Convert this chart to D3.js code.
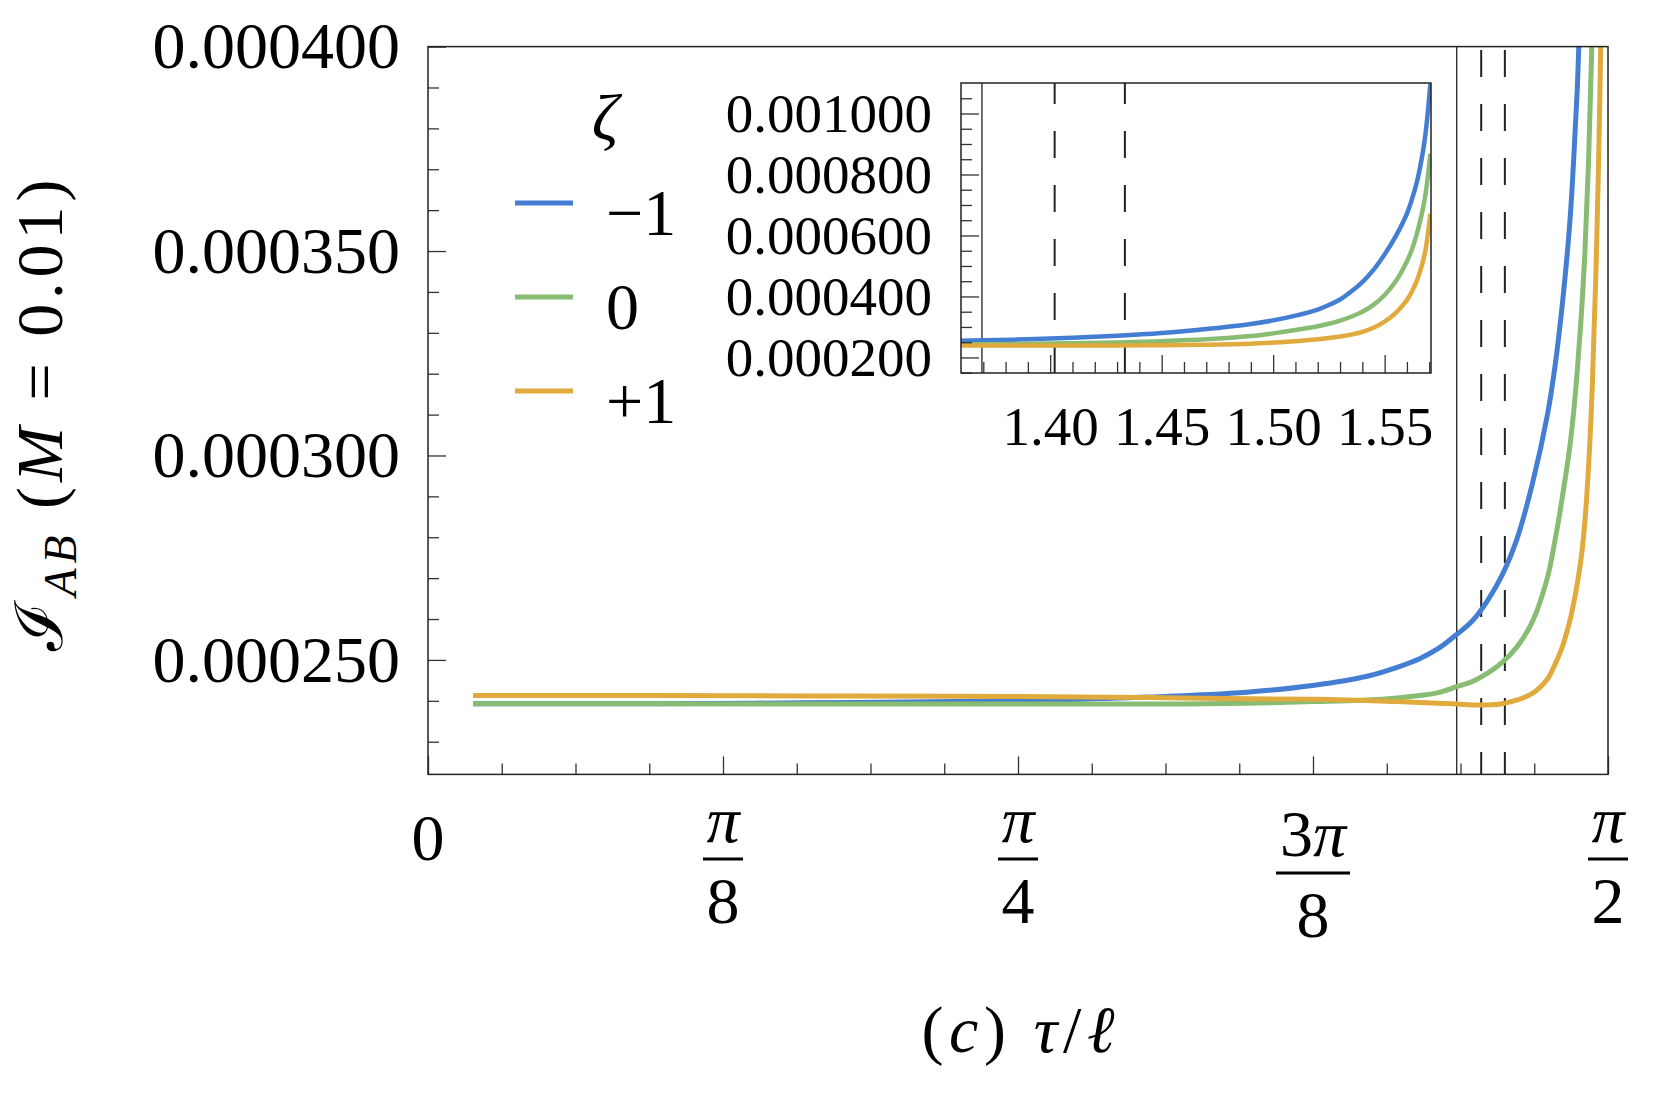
<!DOCTYPE html>
<html>
<head>
<meta charset="utf-8">
<script src="https://cdn.jsdelivr.net/npm/d3@7"></script>
<style>
  html, body { margin: 0; padding: 0; background: #fff; }
  svg { display: block; }
  text { font-family: "Liberation Serif", "DejaVu Serif", serif; fill: #000; }
</style>
</head>
<body>
<div id="chart"></div>
<script>
// tau / l samples, shared by the three curves
const tau = [0.06, 0.30, 0.50, 0.70, 0.83, 0.96, 1.09, 1.18, 1.25, 1.29, 1.32, 1.345,
  1.37, 1.39, 1.41, 1.43, 1.45, 1.47, 1.49, 1.50, 1.51, 1.52, 1.525, 1.53, 1.535,
  1.54, 1.545, 1.55, 1.555, 1.56, 1.5625, 1.565, 1.568, 1.5705];

// I_AB for zeta = -1, 0, +1
const iabMinus = [0.0002393, 0.0002393, 0.0002395, 0.0002398, 0.0002402, 0.0002409, 0.0002421, 0.0002438,
  0.0002460, 0.0002482, 0.0002503, 0.0002528, 0.0002563, 0.0002595, 0.0002644, 0.0002708,
  0.0002798, 0.0002930, 0.0003098, 0.0003215, 0.0003370, 0.0003570, 0.0003720, 0.0003900, 0.0004160,
  0.0004470, 0.0004870, 0.0005380, 0.0005980, 0.0006720, 0.0007250, 0.0007920, 0.0009150, 0.0010970];
const iabZero = [0.0002393, 0.0002393, 0.0002392, 0.0002392, 0.0002392, 0.0002392, 0.0002394, 0.0002398,
  0.0002402, 0.0002407, 0.0002413, 0.0002420, 0.0002435, 0.0002447, 0.0002467, 0.0002494,
  0.0002533, 0.0002593, 0.0002700, 0.0002790, 0.0002898, 0.0003022, 0.0003105, 0.0003210, 0.0003335,
  0.0003495, 0.0003725, 0.0004050, 0.0004500, 0.0005150, 0.0005600, 0.0006200, 0.0007200, 0.0008680];
const iabPlus = [0.0002413, 0.0002413, 0.0002412, 0.0002411, 0.0002410, 0.0002408, 0.0002405, 0.0002404,
  0.0002401, 0.0002398, 0.0002396, 0.0002394, 0.0002392, 0.0002390, 0.0002390, 0.0002393,
  0.0002402, 0.0002418, 0.0002453, 0.0002488, 0.0002532, 0.0002596, 0.0002638, 0.0002688, 0.0002748,
  0.0002838, 0.0002975, 0.0003175, 0.0003465, 0.0003880, 0.0004200, 0.0004620, 0.0005400, 0.0006710];

const zetaLabels = ["\u22121", "0", "+1"];

// vertical reference lines (solid, dashed, dashed)
const markerTau = [1.3694, 1.402, 1.4335];

const mainYTicks = [0.00025, 0.0003, 0.00035, 0.0004];
const xTickValues = [0, Math.PI / 8, Math.PI / 4, 3 * Math.PI / 8, Math.PI / 2];
const xTickNum = ["0", "\u03c0", "\u03c0", "3\u03c0", "\u03c0"];
const xTickDen = ["", "8", "4", "8", "2"];
const insetXTicks = [1.40, 1.45, 1.50, 1.55];
const insetYTicks = [0.0002, 0.0004, 0.0006, 0.0008, 0.0010];

const colors = ["#437ed3", "#87bc72", "#e0aa3c"];

const width = 1661, height = 1101;
const main = { left: 428, right: 1608, top: 46.6, bottom: 774.4 };
const inset = { left: 961, right: 1431, top: 83, bottom: 373 };

const svg = d3.select("#chart").append("svg")
  .attr("width", width)
  .attr("height", height);

const x = d3.scaleLinear().domain([0, Math.PI / 2]).range([main.left, main.right]);
const y = d3.scaleLinear().domain([0.000222, 0.0004]).range([main.bottom, main.top]);
const xi = d3.scaleLinear().domain([1.36, Math.PI / 2]).range([inset.left, inset.right]);
const yi = d3.scaleLinear().domain([0.000149, 0.0011]).range([inset.bottom, inset.top]);

const defs = svg.append("defs");
defs.append("clipPath").attr("id", "clip-main").append("rect")
  .attr("x", main.left).attr("y", main.top)
  .attr("width", main.right - main.left).attr("height", main.bottom - main.top);
defs.append("clipPath").attr("id", "clip-inset").append("rect")
  .attr("x", inset.left).attr("y", inset.top)
  .attr("width", inset.right - inset.left).attr("height", inset.bottom - inset.top);

const series = [iabMinus, iabZero, iabPlus];

function drawPanel(g, xs, ys, box, clipId, lineWidth) {
  // marker lines
  markerTau.forEach((t, i) => {
    g.append("line")
      .attr("x1", xs(t)).attr("x2", xs(t))
      .attr("y1", box.top).attr("y2", box.bottom)
      .attr("stroke", "#222")
      .attr("stroke-width", i === 0 ? 1.3 : 2)
      .attr("stroke-dasharray", i === 0 ? null : "27,27")
      .attr("stroke-dashoffset", i === 0 ? null : box.dashOffset);
  });

  const line = d3.line()
    .x((d, i) => xs(tau[i]))
    .y((d) => ys(d))
    .curve(d3.curveCatmullRom.alpha(0.5));

  const curves = g.append("g").attr("clip-path", `url(#${clipId})`);
  series.forEach((vals, i) => {
    curves.append("path")
      .datum(vals)
      .attr("d", line)
      .attr("fill", "none")
      .attr("stroke", colors[i])
      .attr("stroke-width", lineWidth)
      .attr("stroke-linejoin", "round");
  });
}

function cleanAxis(g, fontSize) {
  g.select(".domain").remove();
  g.attr("font-family", null).attr("font-size", fontSize);
  g.selectAll(".tick line").attr("stroke", "#333").attr("stroke-width", 1.3);
}

// ---- main panel ----
const mainG = svg.append("g");
main.dashOffset = 50.6;
drawPanel(mainG, x, y, main, "clip-main", 5);

// y ticks
const yMinor = d3.range(23, 41).filter((k) => k % 5 !== 0).map((k) => k * 1e-5);
mainG.append("g")
  .attr("transform", `translate(${main.left},0)`)
  .call(d3.axisLeft(y).tickValues(yMinor).tickSizeInner(-11).tickSizeOuter(0).tickFormat(""))
  .call((g) => cleanAxis(g, 0));
mainG.append("g")
  .attr("transform", `translate(${main.left},0)`)
  .call(d3.axisLeft(y).tickValues(mainYTicks).tickSizeInner(-18).tickSizeOuter(0)
    .tickPadding(28).tickFormat(d3.format(".6f")))
  .call((g) => cleanAxis(g, 66));

// x ticks
const xMinor = d3.range(1, 16).filter((k) => k % 4 !== 0).map((k) => k * Math.PI / 32);
mainG.append("g")
  .attr("transform", `translate(0,${main.bottom})`)
  .call(d3.axisBottom(x).tickValues(xMinor).tickSizeInner(-11).tickSizeOuter(0).tickFormat(""))
  .call((g) => cleanAxis(g, 0));
mainG.append("g")
  .attr("transform", `translate(0,${main.bottom})`)
  .call(d3.axisBottom(x).tickValues(xTickValues).tickSizeInner(-18).tickSizeOuter(0).tickFormat(""))
  .call((g) => cleanAxis(g, 0));

// fraction tick labels
const xLab = mainG.append("g").attr("font-size", 66).attr("text-anchor", "middle");
xTickValues.forEach((v, i) => {
  const cx = x(v);
  if (xTickDen[i] === "") {
    xLab.append("text").attr("x", cx).attr("y", 860).text(xTickNum[i]);
    return;
  }
  const shift = /\d/.test(xTickNum[i]) ? 14 : 0;
  const num = xLab.append("text").attr("x", cx).attr("y", 842 + shift);
  const digits = xTickNum[i].replace("\u03c0", "");
  if (digits) num.append("tspan").text(digits);
  num.append("tspan").attr("font-style", "italic").text("\u03c0");
  const barW = digits ? 74 : 40;
  xLab.append("line")
    .attr("x1", cx - barW / 2).attr("x2", cx + barW / 2)
    .attr("y1", 859 + shift).attr("y2", 859 + shift)
    .attr("stroke", "#000").attr("stroke-width", 3);
  xLab.append("text").attr("x", cx).attr("y", 923 + shift).text(xTickDen[i]);
});

// frame
mainG.append("rect")
  .attr("x", main.left).attr("y", main.top)
  .attr("width", main.right - main.left).attr("height", main.bottom - main.top)
  .attr("fill", "none").attr("stroke", "#222").attr("stroke-width", 1.5);

// ---- legend ----
const legend = svg.append("g");
legend.append("text")
  .attr("x", 605).attr("y", 140)
  .attr("font-size", 66).attr("font-style", "italic").attr("text-anchor", "middle")
  .text("\u03b6");
zetaLabels.forEach((lab, i) => {
  const base = 235 + i * 94;
  legend.append("line")
    .attr("x1", 515).attr("x2", 573)
    .attr("y1", base - 32).attr("y2", base - 32)
    .attr("stroke", colors[i]).attr("stroke-width", 5);
  legend.append("text")
    .attr("x", 606).attr("y", base)
    .attr("font-size", 66)
    .text(lab);
});

// ---- inset ----
const insetG = svg.append("g");
insetG.append("rect")
  .attr("x", inset.left).attr("y", inset.top)
  .attr("width", inset.right - inset.left).attr("height", inset.bottom - inset.top)
  .attr("fill", "#fff");
inset.dashOffset = 6;
drawPanel(insetG, xi, yi, inset, "clip-inset", 4.5);

const yiMinor = d3.range(3, 22).filter((k) => k % 4 !== 0).map((k) => k * 5e-5);
insetG.append("g")
  .attr("transform", `translate(${inset.left},0)`)
  .call(d3.axisLeft(yi).tickValues(yiMinor).tickSizeInner(-11).tickSizeOuter(0).tickFormat(""))
  .call((g) => cleanAxis(g, 0));
insetG.append("g")
  .attr("transform", `translate(${inset.left},0)`)
  .call(d3.axisLeft(yi).tickValues(insetYTicks).tickSizeInner(-18).tickSizeOuter(0)
    .tickPadding(29).tickFormat(d3.format(".6f")))
  .call((g) => cleanAxis(g, 55));

const xiMinor = d3.range(137, 158).filter((k) => k % 5 !== 0).map((k) => k / 100);
insetG.append("g")
  .attr("transform", `translate(0,${inset.bottom})`)
  .call(d3.axisBottom(xi).tickValues(xiMinor).tickSizeInner(-11).tickSizeOuter(0).tickFormat(""))
  .call((g) => cleanAxis(g, 0));
insetG.append("g")
  .attr("transform", `translate(0,${inset.bottom})`)
  .call(d3.axisBottom(xi).tickValues(insetXTicks).tickSizeInner(-18).tickSizeOuter(0)
    .tickPadding(33).tickFormat(d3.format(".2f")))
  .call((g) => cleanAxis(g, 55));

insetG.append("rect")
  .attr("x", inset.left).attr("y", inset.top)
  .attr("width", inset.right - inset.left).attr("height", inset.bottom - inset.top)
  .attr("fill", "none").attr("stroke", "#222").attr("stroke-width", 1.5);

// ---- axis titles ----
const xTitle = svg.append("text")
  .attr("x", 1018).attr("y", 1052)
  .attr("font-size", 66).attr("text-anchor", "middle")
  .attr("textLength", 193).attr("lengthAdjust", "spacing");
xTitle.append("tspan").text("(");
xTitle.append("tspan").attr("font-style", "italic").text("c");
xTitle.append("tspan").text(") ");
xTitle.append("tspan").attr("font-style", "italic").text("\u03c4");
xTitle.append("tspan").text("/");
xTitle.append("tspan").attr("font-style", "italic").text("\u2113");

const yTitle = svg.append("text")
  .attr("transform", "translate(62,415) rotate(-90)")
  .attr("font-size", 66).attr("text-anchor", "middle")
  .attr("textLength", 471).attr("lengthAdjust", "spacing");
yTitle.append("tspan").text("\u2110");
yTitle.append("tspan").attr("font-style", "italic").attr("font-size", 46).attr("dy", 14).text("AB");
yTitle.append("tspan").attr("dy", -14).text(" (");
yTitle.append("tspan").attr("font-style", "italic").text("M");
yTitle.append("tspan").text(" = 0.01)");
</script>
</body>
</html>
